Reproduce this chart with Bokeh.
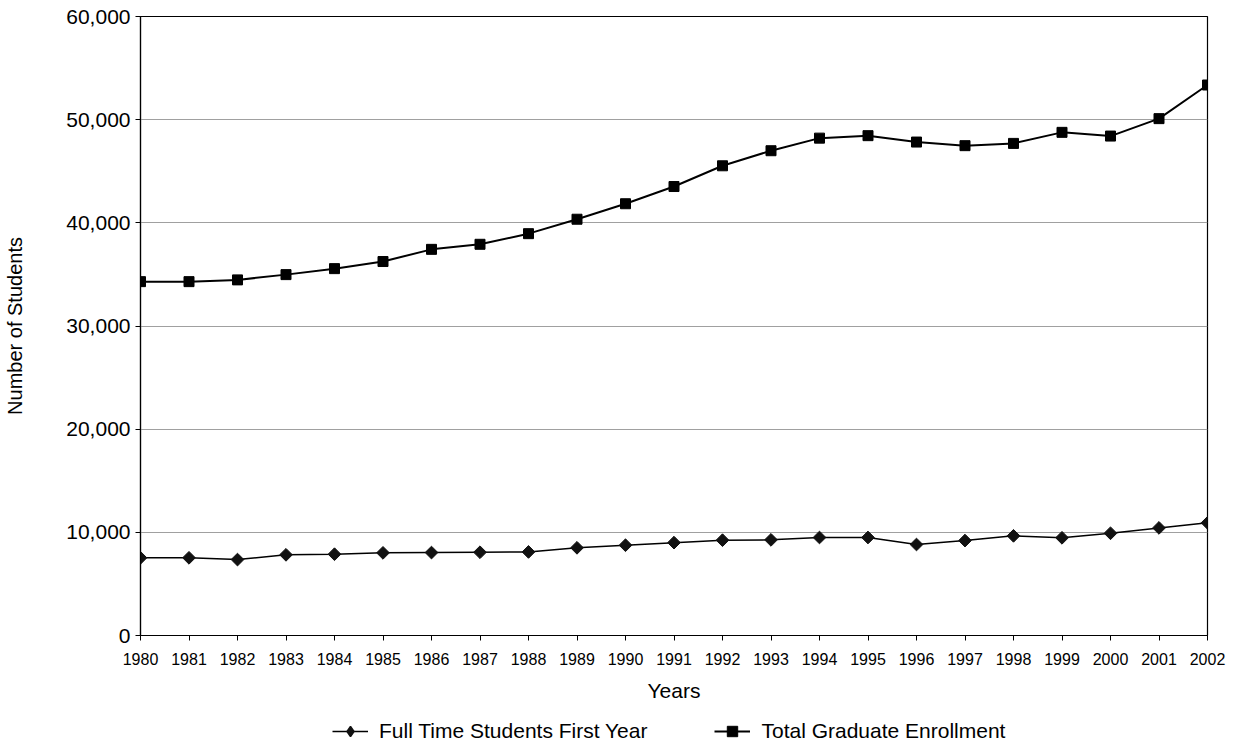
import math
from bokeh.plotting import figure
from bokeh.layouts import column
from bokeh.models import (Legend, LegendItem, NumeralTickFormatter, FixedTicker, Range1d)
from bokeh.embed import file_html
from bokeh.resources import INLINE

years = list(range(1980, 2003))
first_year = [7530, 7530, 7360, 7820, 7880, 8010, 8040, 8070, 8100, 8500, 8750, 9000,
              9240, 9270, 9500, 9500, 8820, 9200, 9660, 9470, 9910, 10430, 10920]
total_grad = [34300, 34300, 34470, 34980, 35560, 36250, 37430, 37920, 38950, 40350, 41850, 43520,
              45530, 46990, 48210, 48450, 47830, 47480, 47700, 48770, 48410, 50100, 53360]
y_ticks = [0, 10000, 20000, 30000, 40000, 50000, 60000]
series_names = ["Full Time Students First Year", "Total Graduate Enrollment"]

FONT = "Liberation Sans"

p = figure(width=1230, height=712, output_backend="svg", toolbar_location=None,
           x_range=Range1d(1980, 2002), y_range=Range1d(0, 60000),
           min_border_left=140, min_border_right=23, min_border_top=16, min_border_bottom=77)

DIAMOND = dict(marker="square", angle=math.pi / 4, size=9, fill_color="#111111", line_color="#111111")
SQUARE = dict(marker="square", size=10, fill_color="black", line_color="black")

p.line(years, first_year, line_color="black", line_width=1.5)
p.scatter(years, first_year, **DIAMOND)
p.line(years, total_grad, line_color="black", line_width=2)
p.scatter(years, total_grad, **SQUARE)

p.outline_line_color = "black"
p.outline_line_width = 1.2
p.background_fill_color = "white"
p.border_fill_color = "white"

p.xgrid.grid_line_color = None
p.ygrid.grid_line_color = "#a0a0a0"
p.ygrid.grid_line_width = 1.2
p.ygrid.ticker = FixedTicker(ticks=y_ticks)

p.xaxis.ticker = FixedTicker(ticks=years)
p.yaxis.ticker = FixedTicker(ticks=y_ticks)
p.yaxis.formatter = NumeralTickFormatter(format="0,0")

for ax in (p.xaxis[0], p.yaxis[0]):
    ax.axis_line_color = "black"
    ax.axis_line_width = 1.2
    ax.major_tick_line_color = "black"
    ax.major_tick_out = 5
    ax.major_tick_in = 0
    ax.minor_tick_line_color = None
    ax.major_label_text_font = FONT
    ax.major_label_text_color = "black"
    ax.axis_label_text_font = FONT
    ax.axis_label_text_font_style = "normal"
    ax.axis_label_text_color = "black"

p.xaxis.major_label_text_font_size = "16px"
p.yaxis.major_label_text_font_size = "21px"
p.xaxis.major_label_standoff = 12
p.yaxis.major_label_standoff = 5
p.xaxis.axis_label = "Years"
p.yaxis.axis_label = "Number of Students"
p.xaxis.axis_label_text_font_size = "21px"
p.yaxis.axis_label_text_font_size = "20px"
p.xaxis.axis_label_standoff = 11
p.yaxis.axis_label_standoff = 37

# legend strip (its renderers hold the same series, drawn outside the strip's visible range)
p2 = figure(width=1230, height=32, output_backend="svg", toolbar_location=None,
            x_range=Range1d(0, 1), y_range=Range1d(0, 1),
            x_axis_location=None, y_axis_location=None,
            min_border_left=0, min_border_right=0, min_border_top=0, min_border_bottom=0)
p2.grid.visible = False
p2.outline_line_color = None
p2.background_fill_color = "white"
p2.border_fill_color = "white"

g1 = p2.line(years, first_year, line_color="black", line_width=1.5)
m1 = p2.scatter(years, first_year, marker="diamond", size=14, line_width=1.5,
                fill_color="#111111", line_color="#111111")
g2 = p2.line(years, total_grad, line_color="black", line_width=2)
m2 = p2.scatter(years, total_grad, **SQUARE)

legend = Legend(items=[
    LegendItem(label=series_names[0], renderers=[g1, m1]),
    LegendItem(label=series_names[1], renderers=[g2, m2]),
], orientation="horizontal", location=(192, 0))
legend.label_text_font = FONT
legend.label_text_font_size = "21px"
legend.label_text_color = "black"
legend.glyph_width = 36
legend.glyph_height = 26
legend.label_standoff = 11
legend.spacing = 67
legend.border_line_color = None
legend.background_fill_alpha = 0
legend.padding = 2
legend.margin = 0
p2.add_layout(legend, "center")

open("out.html", "w").write(file_html(column(p, p2, spacing=0), INLINE))
